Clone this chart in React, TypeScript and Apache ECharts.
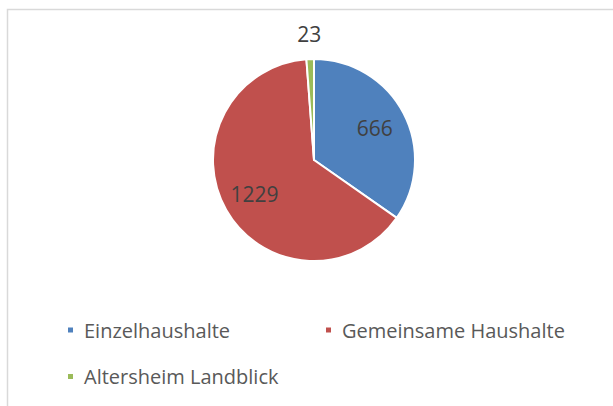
import React, { useEffect, useRef } from "react";
import * as echarts from "echarts";

const categories = ["Einzelhaushalte", "Gemeinsame Haushalte", "Altersheim Landblick"];
const values = [666, 1229, 23];
const colors = ["#4F81BD", "#C0504D", "#9BBB59"];

export default function App() {
  const ref = useRef<HTMLDivElement>(null);
  useEffect(() => {
    const chart = echarts.init(ref.current!, null, { renderer: "svg" });
    const font = "'Open Sans', sans-serif";
    const data = categories.map((name, i) => ({
      name,
      value: values[i],
      itemStyle: { color: colors[i] },
    }));
    const legendText = {
      fontFamily: font,
      fontSize: 20,
      lineHeight: 20,
      color: "#595959",
      padding: [0, 0, 0, 5],
    };
    const labelText = {
      formatter: "{c}",
      fontFamily: font,
      fontSize: 21,
      color: "#404040",
    };
    chart.setOption({
      animation: false,
      backgroundColor: "#fff",
      graphic: [
        {
          type: "rect",
          shape: { x: 7.5, y: 9.5, width: 700, height: 500 },
          style: { fill: "none", stroke: "#d9d9d9", lineWidth: 1.5 },
          silent: true,
        },
      ],
      legend: [
        {
          data: [categories[0], categories[2]],
          orient: "vertical",
          left: 66,
          top: 320,
          padding: 0,
          itemWidth: 7,
          itemHeight: 7,
          itemGap: 26.5,
          icon: "rect",
          textStyle: legendText,
        },
        {
          data: [categories[1]],
          orient: "vertical",
          left: 324,
          top: 320,
          padding: 0,
          itemWidth: 7,
          itemHeight: 7,
          icon: "rect",
          textStyle: legendText,
        },
      ],
      series: [
        {
          type: "pie",
          center: [314, 160],
          radius: [0, 101],
          startAngle: 90,
          clockwise: true,
          itemStyle: { borderColor: "#fff", borderWidth: 2 },
          label: { show: false },
          labelLine: { show: false },
          emphasis: { disabled: true },
          data,
        },
        {
          type: "pie",
          center: [314, 160],
          radius: [30, 101],
          startAngle: 90,
          clockwise: true,
          silent: true,
          itemStyle: { color: "transparent", borderWidth: 0 },
          label: { show: true, position: "inside", ...labelText },
          labelLine: { show: false },
          emphasis: { disabled: true },
          data: data.map((d, i) => ({
            name: d.name,
            value: d.value,
            itemStyle: { color: "transparent" },
            label: i === 2 ? { show: false } : undefined,
          })),
        },
        {
          type: "pie",
          center: [314, 160],
          radius: [112, 134],
          startAngle: 90,
          clockwise: true,
          silent: true,
          itemStyle: { color: "transparent", borderWidth: 0 },
          label: { show: true, position: "inside", ...labelText },
          labelLine: { show: false },
          emphasis: { disabled: true },
          data: data.map((d, i) => ({
            name: d.name,
            value: d.value,
            itemStyle: { color: "transparent" },
            label: i === 2 ? undefined : { show: false },
          })),
        },
      ],
    });
    return () => chart.dispose();
  }, []);
  return <div ref={ref} style={{ width: 613, height: 406, position: "absolute", left: 0, top: 0 }} />;
}
